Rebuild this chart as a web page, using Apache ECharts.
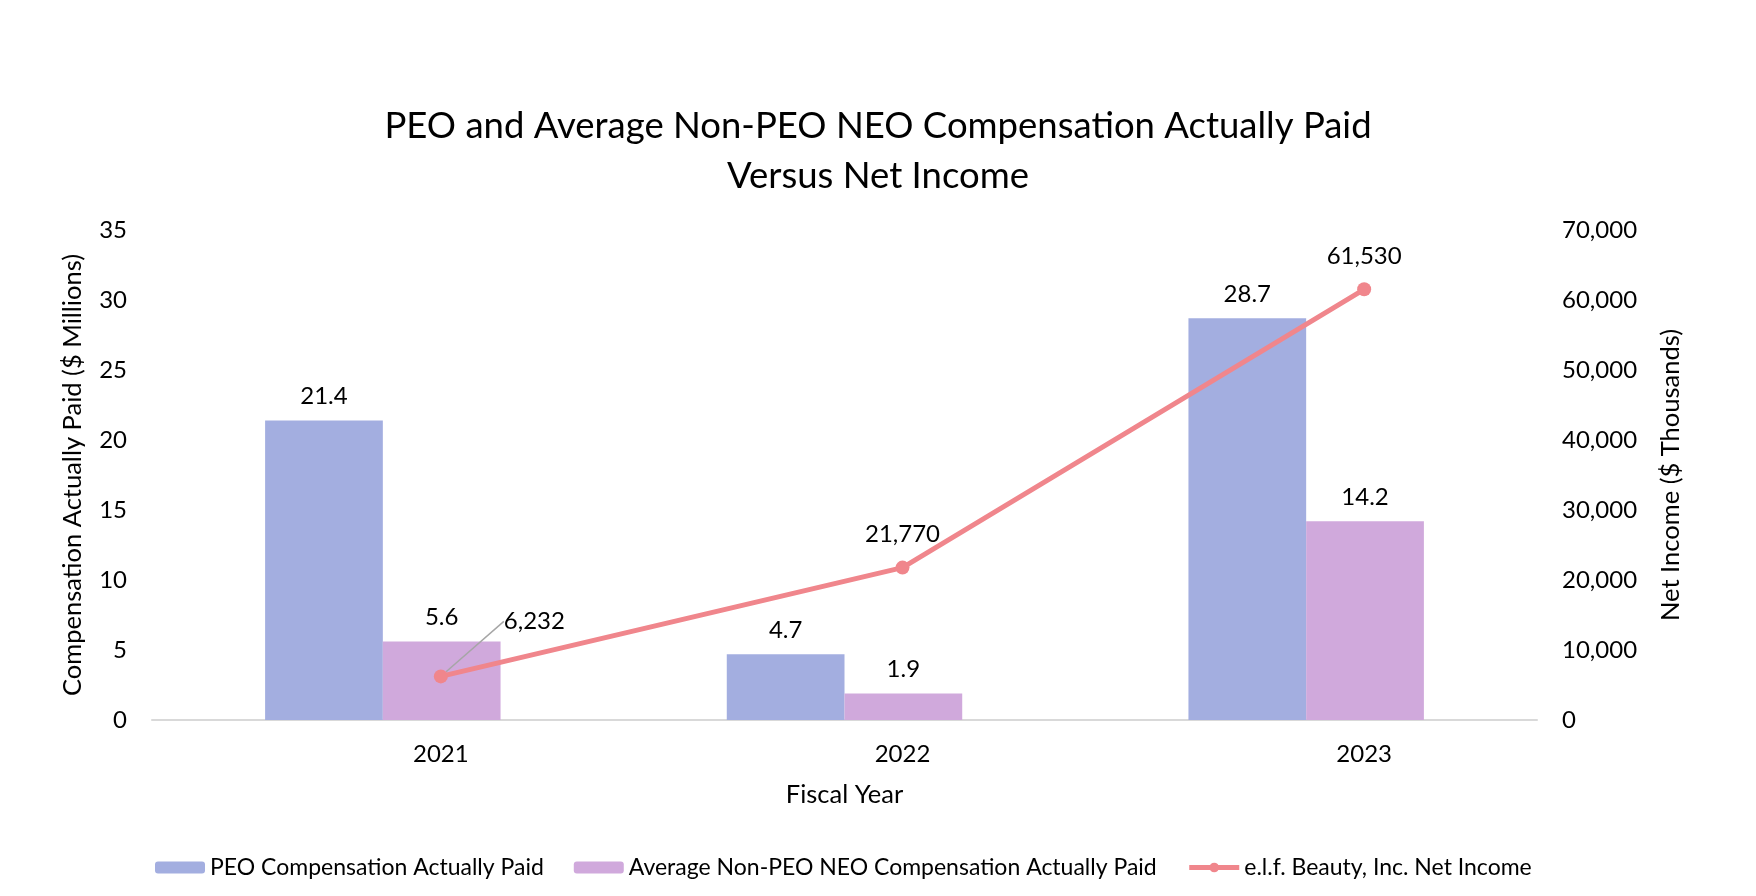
<!DOCTYPE html>
<html>
<head>
<meta charset="utf-8">
<script src="https://cdn.jsdelivr.net/npm/echarts@6/dist/echarts.min.js"></script>
<style>
html,body{margin:0;padding:0;background:#fff;}
#chart{width:1756px;height:896px;}
</style>
</head>
<body>
<div id="chart"></div>
<script>
const categories = ['2021', '2022', '2023'];
const peoCap = [21.4, 4.7, 28.7];
const nonPeoCap = [5.6, 1.9, 14.2];
const netIncome = [6232, 21770, 61530];
const leftTicks = { min: 0, max: 35, interval: 5 };
const rightTicks = { min: 0, max: 70000, interval: 10000 };

const FONT = 'Lato';
const fmt = v => v.toLocaleString('en-US');
const chart = echarts.init(document.getElementById('chart'));
const txt = { fontFamily: FONT, color: '#000', fontSize: 24 };
const nameTxt = { fontFamily: FONT, color: '#000', fontSize: 25.5 };

chart.setOption({
  animation: false,
  textStyle: { fontFamily: FONT },
  title: {
    text: 'PEO and Average Non-PEO NEO Compensation Actually Paid\nVersus Net Income',
    left: 'center', top: 96,
    textStyle: { fontFamily: FONT, fontSize: 36.5, fontWeight: 'normal', color: '#000', lineHeight: 50 }
  },
  legend: {
    left: 150, top: 851,
    itemWidth: 50, itemHeight: 12, itemGap: 30,
    textStyle: { fontFamily: FONT, fontSize: 23, color: '#000' },
    data: [
      'PEO Compensation Actually Paid',
      'Average Non-PEO NEO Compensation Actually Paid',
      { name: 'e.l.f. Beauty, Inc. Net Income', lineStyle: { width: 5 } }
    ]
  },
  grid: [
    { left: 152, right: 219, top: 230, bottom: 176 },
    { left: 210, right: 161, top: 230, bottom: 176 }
  ],
  xAxis: [
    {
      type: 'category', gridIndex: 0, data: categories,
      name: 'Fiscal Year', nameLocation: 'middle', nameGap: 62,
      nameTextStyle: nameTxt,
      axisLine: { lineStyle: { color: '#d9d9d9', width: 2 } },
      axisTick: { show: false },
      axisLabel: { show: false }
    },
    {
      type: 'category', gridIndex: 1, data: categories,
      axisLine: { show: false }, axisTick: { show: false },
      axisLabel: Object.assign({ margin: 22 }, txt)
    }
  ],
  yAxis: [
    {
      type: 'value', gridIndex: 0, min: leftTicks.min, max: leftTicks.max, interval: leftTicks.interval,
      name: 'Compensation Actually Paid ($ Millions)', nameLocation: 'middle', nameGap: 66,
      nameTextStyle: nameTxt,
      splitLine: { show: false }, axisLine: { show: false }, axisTick: { show: false },
      axisLabel: Object.assign({ margin: 25 }, txt)
    },
    {
      type: 'value', gridIndex: 0, position: 'right', min: rightTicks.min, max: rightTicks.max, interval: rightTicks.interval,
      name: 'Net Income ($ Thousands)', nameLocation: 'middle', nameGap: 121,
      nameTextStyle: nameTxt,
      splitLine: { show: false }, axisLine: { show: false }, axisTick: { show: false },
      axisLabel: Object.assign({ margin: 25, formatter: v => fmt(v) }, txt)
    },
    {
      type: 'value', gridIndex: 1, min: rightTicks.min, max: rightTicks.max, interval: rightTicks.interval, show: false
    }
  ],
  series: [
    {
      name: 'PEO Compensation Actually Paid', type: 'bar', xAxisIndex: 0, yAxisIndex: 0,
      data: peoCap, barGap: '0%', barCategoryGap: '49%',
      itemStyle: { color: '#A3AEE0' },
      label: Object.assign({ show: true, position: 'top', distance: 12, formatter: p => p.value.toFixed(1) }, txt)
    },
    {
      name: 'Average Non-PEO NEO Compensation Actually Paid', type: 'bar', xAxisIndex: 0, yAxisIndex: 0,
      data: nonPeoCap, barGap: '0%', barCategoryGap: '49%',
      itemStyle: { color: '#D0A9DC' },
      label: Object.assign({ show: true, position: 'top', distance: 12, formatter: p => p.value.toFixed(1) }, txt)
    },
    {
      name: 'e.l.f. Beauty, Inc. Net Income', type: 'line', xAxisIndex: 1, yAxisIndex: 2,
      data: netIncome.map((v, i) => i === 0 ? {
        value: v,
        label: { position: 'right', distance: 4 },
        labelLine: { show: true, lineStyle: { color: '#a6a6a6', width: 1.5 } }
      } : v),
      symbol: 'circle', symbolSize: 14,
      lineStyle: { color: '#F0868C', width: 5 },
      itemStyle: { color: '#F0868C' },
      label: Object.assign({ show: true, position: 'top', distance: 14, formatter: p => fmt(p.value) }, txt),
      labelLayout: p => p.dataIndex === 0 ? { dx: 52, dy: -55 } : {}
    }
  ]
});
</script>
</body>
</html>
